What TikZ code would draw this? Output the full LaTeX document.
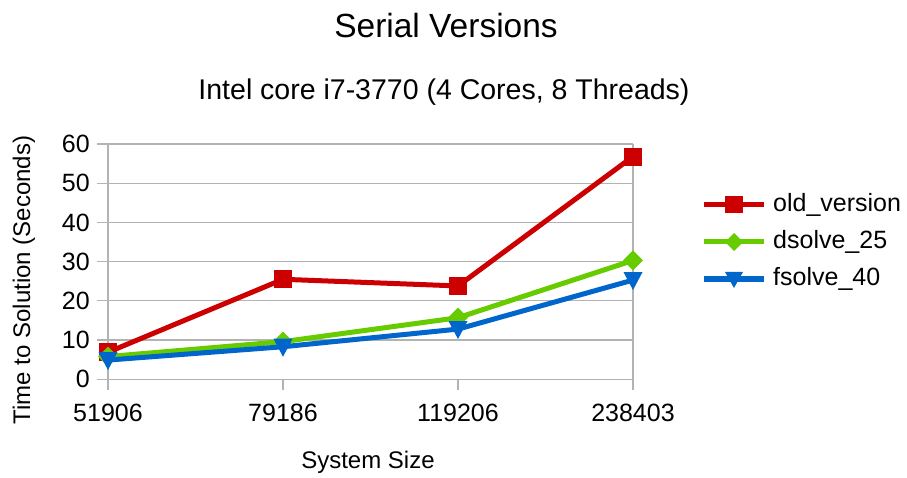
\documentclass[tikz,border=0pt]{standalone}
\usepackage{fontspec}
\setmainfont{Liberation Sans}
\usetikzlibrary{calc}
\definecolor{oldred}{HTML}{CC0000}
\definecolor{dgreen}{HTML}{66CC00}
\definecolor{fblue}{HTML}{0066CC}
\definecolor{gridgray}{HTML}{B3B3B3}
\begin{document}
\begin{tikzpicture}[x=1pt,y=-1pt,
  gridline/.style={gridgray,line width=1.2pt},
  series/.style={line width=5pt,line join=round},
  ticklabel/.style={font=\fontsize{25}{25}\selectfont,inner sep=0pt},
  axtitle/.style={font=\fontsize{24}{24}\selectfont,inner sep=0pt},
]
\useasboundingbox (0,0) rectangle (907,478);
% value -> y pixel: y = 379.3 - 3.922*v
\def\px#1{379.3-3.922*#1}
% grid
\foreach \v in {0,10,...,60}
  \draw[gridline] (97,{\px{\v}}) -- (633,{\px{\v}});
\draw[gridline] (108,144) -- (108,390);
\draw[gridline] (633,144) -- (633,390);
\draw[gridline] (283,379.3) -- (283,390);
\draw[gridline] (458,379.3) -- (458,390);
% y tick labels
\foreach \v in {0,10,...,60}
  \node[ticklabel,anchor=east] (yl\v) at (90,{\px{\v}}) {\v};
% x tick labels
\foreach \x/\t in {108/51906,283/79186,458/119206,633/238403}
  \node[ticklabel] (xl\t) at (\x,413) {\t};
% titles
\node[font=\fontsize{33.5}{33.5}\selectfont,inner sep=0pt] (title) at (446,26) {Serial Versions};
\node[font=\fontsize{28.5}{28.5}\selectfont,inner sep=0pt] (subtitle) at (444,92) {Intel core i7-3770 (4 Cores, 8 Threads)};
\node[axtitle] (xtitle) at (368,462) {System Size};
\node[axtitle,rotate=90] (ytitle) at (24,280) {Time to Solution (Seconds)};
% data points
\foreach \n/\x/\a/\b/\c in {1/108/6.9/5.8/4.9,2/283/25.5/9.6/8.3,3/458/23.8/15.7/12.8,4/633/56.8/30.3/25.3}{
  \coordinate (o\n) at (\x,{\px{\a}});
  \coordinate (d\n) at (\x,{\px{\b}});
  \coordinate (f\n) at (\x,{\px{\c}});
}
% old_version: line, then square markers
\draw[series,oldred] (o1) -- (o2) -- (o3) -- (o4);
\foreach \n in {1,...,4}
  \fill[oldred] ($(o\n)+(-9,-9)$) rectangle ($(o\n)+(9,9)$);
% dsolve_25: line, then diamond markers
\draw[series,dgreen] (d1) -- (d2) -- (d3) -- (d4);
\foreach \n in {1,...,4}
  \fill[dgreen] ($(d\n)+(-10,0)$) -- ($(d\n)+(0,-10)$) -- ($(d\n)+(10,0)$) -- ($(d\n)+(0,10)$) -- cycle;
% fsolve_40: line, then down-triangle markers
\draw[series,fblue] (f1) -- (f2) -- (f3) -- (f4);
\foreach \n in {1,...,4}
  \fill[fblue] ($(f\n)+(-9.5,-8)$) -- ($(f\n)+(9.5,-8)$) -- ($(f\n)+(0,10)$) -- cycle;
% legend
\foreach \k/\col/\txt/\y in {a/oldred/old\_version/205,b/dgreen/dsolve\_25/242,c/fblue/fsolve\_40/279}{
  \coordinate (la\k) at (704,\y);
  \coordinate (lb\k) at (764,\y);
  \coordinate (lm\k) at (734,\y);
  \draw[series,\col] (la\k) -- (lb\k);
  \node[ticklabel,anchor=west] (lt\k) at (773,\y) {\txt};
}
\fill[oldred] ($(lma)+(-9,-8.5)$) rectangle ($(lma)+(9,8.5)$);
\fill[dgreen] ($(lmb)+(-9,0)$) -- ($(lmb)+(0,-9)$) -- ($(lmb)+(9,0)$) -- ($(lmb)+(0,9)$) -- cycle;
\fill[fblue] ($(lmc)+(-9,-7)$) -- ($(lmc)+(9,-7)$) -- ($(lmc)+(0,9)$) -- cycle;
\end{tikzpicture}
\end{document}
